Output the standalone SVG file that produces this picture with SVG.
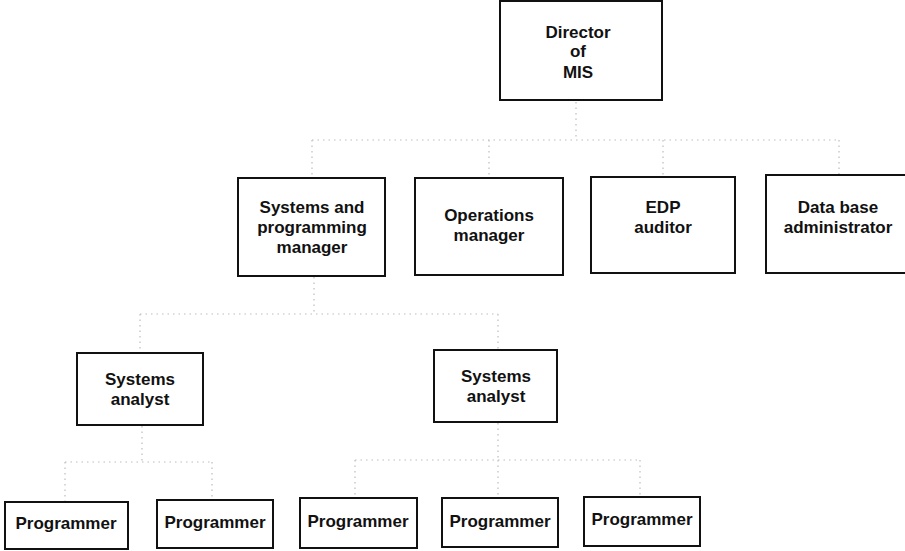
<svg xmlns="http://www.w3.org/2000/svg" width="905" height="551" viewBox="0 0 905 551">
  <style>
    .box { fill: #ffffff; stroke: #111111; stroke-width: 2; }
    .lbl { font-family: "Liberation Sans", Arial, Helvetica, sans-serif; font-size: 17px; font-weight: bold; fill: #111111; text-anchor: middle; }
    .wire { fill: none; stroke: #bdbdbd; stroke-width: 1.2; stroke-dasharray: 1.5 4; }
  </style>
  <rect width="905" height="551" fill="#ffffff"/>

  <!-- reporting lines -->
  <g id="connectors">
    <path class="wire" d="M576 102 V140"/>
    <path class="wire" d="M312 140 H839"/>
    <path class="wire" d="M312 140 V178"/>
    <path class="wire" d="M489 140 V178"/>
    <path class="wire" d="M663 140 V177"/>
    <path class="wire" d="M839 140 V175"/>

    <path class="wire" d="M314 277 V314"/>
    <path class="wire" d="M140 314 H498"/>
    <path class="wire" d="M140 314 V353"/>
    <path class="wire" d="M498 314 V350"/>

    <path class="wire" d="M142 426 V462"/>
    <path class="wire" d="M65 462 H212"/>
    <path class="wire" d="M65 462 V502"/>
    <path class="wire" d="M212 462 V500"/>

    <path class="wire" d="M498 423 V460"/>
    <path class="wire" d="M355 460 H640"/>
    <path class="wire" d="M355 460 V498"/>
    <path class="wire" d="M498 460 V498"/>
    <path class="wire" d="M640 460 V497"/>
  </g>

  <g id="director">
    <rect class="box" x="500" y="1" width="162" height="99"/>
    <text class="lbl" x="578" y="38">Director</text>
    <text class="lbl" x="578" y="57">of</text>
    <text class="lbl" x="578" y="78">MIS</text>
  </g>

  <g id="sp-manager">
    <rect class="box" x="238" y="178" width="147" height="98"/>
    <text class="lbl" x="312" y="213">Systems and</text>
    <text class="lbl" x="312" y="233">programming</text>
    <text class="lbl" x="312" y="253">manager</text>
  </g>

  <g id="ops-manager">
    <rect class="box" x="415" y="178" width="148" height="97"/>
    <text class="lbl" x="489" y="221">Operations</text>
    <text class="lbl" x="489" y="241">manager</text>
  </g>

  <g id="edp-auditor">
    <rect class="box" x="591" y="177" width="144" height="96"/>
    <text class="lbl" x="663" y="213">EDP</text>
    <text class="lbl" x="663" y="233">auditor</text>
  </g>

  <g id="dba">
    <rect class="box" x="766" y="175" width="145" height="98"/>
    <text class="lbl" x="838" y="213">Data base</text>
    <text class="lbl" x="838" y="233">administrator</text>
  </g>

  <g id="analyst-1">
    <rect class="box" x="77" y="353" width="126" height="72"/>
    <text class="lbl" x="140" y="385">Systems</text>
    <text class="lbl" x="140" y="405">analyst</text>
  </g>

  <g id="analyst-2">
    <rect class="box" x="434" y="350" width="123" height="72"/>
    <text class="lbl" x="496" y="382">Systems</text>
    <text class="lbl" x="496" y="402">analyst</text>
  </g>

  <g id="programmer-1">
    <rect class="box" x="5" y="502" width="123" height="47"/>
    <text class="lbl" x="66" y="529">Programmer</text>
  </g>
  <g id="programmer-2">
    <rect class="box" x="157" y="500" width="116" height="48"/>
    <text class="lbl" x="215" y="528">Programmer</text>
  </g>
  <g id="programmer-3">
    <rect class="box" x="300" y="498" width="117" height="50"/>
    <text class="lbl" x="358" y="527">Programmer</text>
  </g>
  <g id="programmer-4">
    <rect class="box" x="442" y="498" width="116" height="49"/>
    <text class="lbl" x="500" y="527">Programmer</text>
  </g>
  <g id="programmer-5">
    <rect class="box" x="584" y="497" width="116" height="49"/>
    <text class="lbl" x="642" y="525">Programmer</text>
  </g>
</svg>
